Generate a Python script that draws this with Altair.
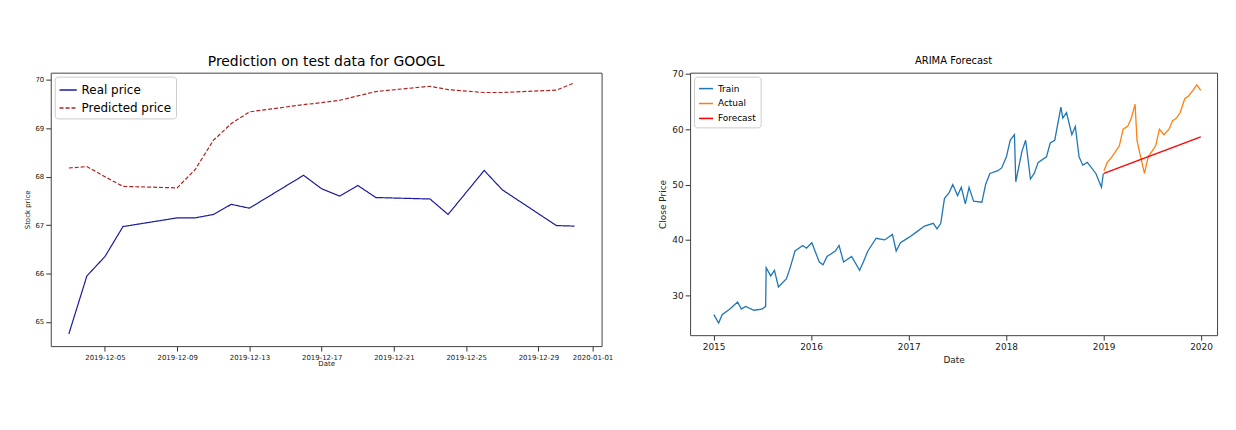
import altair as alt
import pandas as pd

# Left panel: GOOGL test predictions
test_dates = ["2019-12-03", "2019-12-04", "2019-12-05", "2019-12-06", "2019-12-09", "2019-12-10",
              "2019-12-11", "2019-12-12", "2019-12-13", "2019-12-16", "2019-12-17", "2019-12-18",
              "2019-12-19", "2019-12-20", "2019-12-23", "2019-12-24", "2019-12-26", "2019-12-27",
              "2019-12-30", "2019-12-31"]
real_price = [64.75, 65.95, 66.35, 66.97, 67.15, 67.15, 67.22, 67.43, 67.35, 68.03,
              67.75, 67.60, 67.82, 67.57, 67.54, 67.22, 68.13, 67.73, 66.99, 66.98]
pred_price = [68.18, 68.21, 68.00, 67.80, 67.77, 68.15, 68.75, 69.10, 69.34, 69.49,
              69.53, 69.58, 69.67, 69.76, 69.87, 69.80, 69.74, 69.74, 69.79, 69.94]

# Right panel: ARIMA forecast
train_dates = ["2015-01-02", "2015-01-20", "2015-02-02", "2015-03-02", "2015-04-01", "2015-04-15",
               "2015-05-01", "2015-06-01", "2015-07-01", "2015-07-15", "2015-07-17", "2015-08-03",
               "2015-08-17", "2015-09-01", "2015-10-01", "2015-10-15", "2015-11-02", "2015-12-01",
               "2015-12-15", "2016-01-04", "2016-02-01", "2016-02-15", "2016-03-01", "2016-04-01",
               "2016-04-15", "2016-05-02", "2016-06-01", "2016-07-01", "2016-07-15", "2016-08-01",
               "2016-09-01", "2016-10-03", "2016-11-01", "2016-11-15", "2016-12-01", "2017-01-03",
               "2017-02-01", "2017-03-01", "2017-04-03", "2017-04-17", "2017-05-01", "2017-05-15",
               "2017-06-01", "2017-06-15", "2017-07-03", "2017-07-17", "2017-08-01", "2017-08-15",
               "2017-09-01", "2017-10-02", "2017-10-16", "2017-11-01", "2017-12-01", "2017-12-15",
               "2018-01-02", "2018-01-16", "2018-02-01", "2018-02-06", "2018-03-01", "2018-03-15",
               "2018-04-02", "2018-04-16", "2018-05-01", "2018-06-01", "2018-06-15", "2018-07-02",
               "2018-07-25", "2018-08-01", "2018-08-15", "2018-09-04", "2018-09-17", "2018-10-01",
               "2018-10-15", "2018-11-01", "2018-12-03", "2018-12-24", "2018-12-31"]
train_close = [26.5, 25.0, 26.5, 27.5, 28.8, 27.5, 28.0, 27.3, 27.5, 28.0, 35.0, 33.5,
               34.5, 31.5, 33.0, 35.0, 38.0, 39.0, 38.5, 39.5, 36.0, 35.5, 37.0, 38.0,
               39.0, 36.0, 37.0, 34.5, 36.0, 38.0, 40.3, 40.0, 41.0, 38.0, 39.5, 40.5,
               41.5, 42.5, 43.0, 42.0, 43.0, 47.5, 48.5, 50.0, 48.0, 49.5, 46.5, 49.5,
               47.0, 46.8, 50.0, 52.0, 52.5, 53.0, 55.0, 58.0, 59.0, 50.5, 56.0, 58.0,
               51.0, 52.0, 54.0, 55.0, 57.5, 58.0, 64.0, 62.0, 63.0, 59.0, 60.5, 55.0,
               53.5, 54.0, 52.0, 49.5, 52.0]
actual_dates = ["2019-01-02", "2019-01-15", "2019-02-01", "2019-02-15", "2019-03-01", "2019-03-15",
                "2019-04-01", "2019-04-15", "2019-04-29", "2019-05-06", "2019-05-15", "2019-06-03",
                "2019-06-17", "2019-07-01", "2019-07-15", "2019-07-29", "2019-08-15", "2019-09-03",
                "2019-09-16", "2019-10-01", "2019-10-15", "2019-11-01", "2019-11-15", "2019-12-02",
                "2019-12-16", "2019-12-31"]
actual_close = [52.5, 54.0, 55.0, 56.0, 57.0, 60.0, 60.5, 62.0, 64.5, 58.0, 56.0, 52.0,
                55.0, 56.0, 57.0, 60.0, 59.0, 60.0, 61.5, 62.0, 63.0, 65.5, 66.0, 67.0,
                68.0, 67.0]
forecast_dates = ["2019-01-02", "2019-12-31"]
forecast_close = [52.0, 58.6]

left_df = pd.concat([
    pd.DataFrame({"date": test_dates, "price": real_price, "series": "Real price"}),
    pd.DataFrame({"date": test_dates, "price": pred_price, "series": "Predicted price"}),
])
right_df = pd.concat([
    pd.DataFrame({"date": train_dates, "close": train_close, "series": "Train"}),
    pd.DataFrame({"date": actual_dates, "close": actual_close, "series": "Actual"}),
    pd.DataFrame({"date": forecast_dates, "close": forecast_close, "series": "Forecast"}),
])

axis_style = dict(grid=False, domain=False, tickColor="#333", labelColor="#222",
                  titleColor="#222", titleFontWeight="normal")
frame = alt.ViewBackground(stroke="#444", strokeWidth=1)

left = alt.Chart(left_df).mark_line(strokeWidth=1.2).encode(
    x=alt.X("date:T", title="Date",
            scale=alt.Scale(domain=["2019-12-02", "2020-01-01T12:00:00"]),
            axis=alt.Axis(values=["2019-12-05", "2019-12-09", "2019-12-13", "2019-12-17",
                                  "2019-12-21", "2019-12-25", "2019-12-29", "2020-01-01"],
                          format="%Y-%m-%d", labelFontSize=7, titleFontSize=7, titlePadding=0,
                          **axis_style)),
    y=alt.Y("price:Q", title="Stock price", scale=alt.Scale(domain=[64.5, 70.15], nice=False),
            axis=alt.Axis(values=[65, 66, 67, 68, 69, 70], labelFontSize=7, titleFontSize=7,
                          **axis_style)),
    color=alt.Color("series:N", title=None,
                    scale=alt.Scale(domain=["Real price", "Predicted price"], range=["#1a1aa0", "#b22222"]),
                    legend=alt.Legend(orient="top-left", offset=4, labelFontSize=12, symbolSize=300,
                                      strokeColor="#ccc", fillColor="white", padding=4, cornerRadius=3)),
    strokeDash=alt.StrokeDash("series:N", title=None,
                              scale=alt.Scale(domain=["Real price", "Predicted price"], range=[[1, 0], [4, 2]])),
).properties(width=554, height=275, view=frame,
             title=alt.Title("Prediction on test data for GOOGL", fontSize=14, fontWeight="normal"))

right = alt.Chart(right_df).mark_line(strokeWidth=1.3).encode(
    x=alt.X("date:T", title="Date",
            scale=alt.Scale(domain=["2014-10-05", "2020-03-01"]),
            axis=alt.Axis(values=["2015-01-01", "2016-01-01", "2017-01-01", "2018-01-01",
                                  "2019-01-01", "2020-01-01"],
                          format="%Y", labelFontSize=9, titleFontSize=9, **axis_style)),
    y=alt.Y("close:Q", title="Close Price", scale=alt.Scale(domain=[22.8, 70.2], nice=False),
            axis=alt.Axis(values=[30, 40, 50, 60, 70], labelFontSize=9, titleFontSize=9, **axis_style)),
    color=alt.Color("series:N", title=None,
                    scale=alt.Scale(domain=["Train", "Actual", "Forecast"], range=["#1f77b4", "#ff7f0e", "#ff0000"]),
                    legend=alt.Legend(orient="top-left", offset=4, labelFontSize=9, symbolSize=200,
                                      strokeColor="#ccc", fillColor="white", padding=4, cornerRadius=3)),
).properties(width=530, height=264, view=frame,
             title=alt.Title("ARIMA Forecast", fontSize=10, fontWeight="normal"))

chart = alt.hconcat(left, right, spacing=45).resolve_scale(
    color="independent", strokeDash="independent"
).resolve_legend(color="independent", strokeDash="independent").properties(
    padding={"left": 15, "top": 45, "right": 10, "bottom": 5}
).configure_view(stroke="#444", strokeWidth=1).configure(font="DejaVu Sans")

chart.save("out.html", embed_options={"renderer": "svg", "actions": False})
